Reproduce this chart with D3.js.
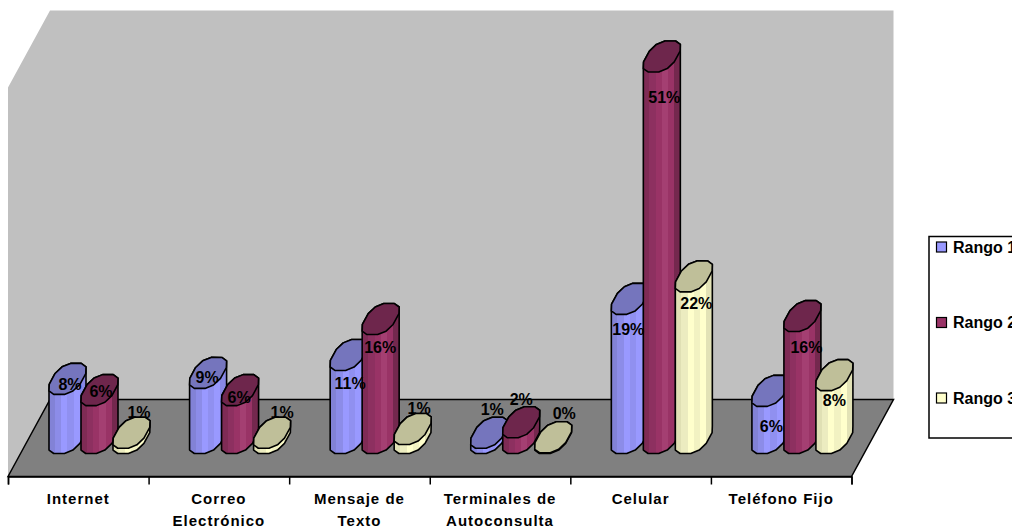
<!DOCTYPE html>
<html>
<head>
<meta charset="utf-8">
<script src="https://cdn.jsdelivr.net/npm/d3@7"></script>
<style>
  html, body { margin: 0; padding: 0; background: #fff; overflow: hidden; }
  text { font-family: "Liberation Sans", Arial, sans-serif; font-weight: bold; fill: #000; }
</style>
</head>
<body>
<div class="chart"></div>
<script>
// values, in percent
const categories = ["Internet", "Correo\nElectrónico", "Mensaje de\nTexto", "Terminales de\nAutoconsulta", "Celular", "Teléfono Fijo"];
const seriesNames = ["Rango 1", "Rango 2", "Rango 3"];
const rango1 = [7.9, 8.7, 11.1, 0.7, 18.6, 6.3];
const rango2 = [6.4, 6.4, 15.9, 2.1, 51, 16.3];
const rango3 = [0.7, 0.7, 1.2, 0.1, 21.6, 8.4];

// label nudges from the top of each cylinder, per category then series
const labelNudge = [
  [[2.5, 5], [1.5, 1], [7.5, -20]],
  [[-1, 4], [-1, 7], [10, -20]],
  [[1.5, 28], [-0.5, 28], [6.5, -21]],
  [[3, -23], [0, -23], [11, -24]],
  [[-1.5, 31], [2.5, 41], [2.5, 27]],
  [[1, 36], [4, 31], [0, 25]]
];

const width = 1012, height = 527;
const plot = { left: 8, right: 851.5, front: 476.5, back: 399.5, top: 10.5, depthX: 42 };
const halfWidth = 18.5, halfHeight = 15.5;

const colors = {
  "Rango 1": { top: "#7575bd", stops: ["#8282d6", "#8c8ce8", "#9999ff", "#9090f0", "#9999ff", "#8888e6"] },
  "Rango 2": { top: "#6e264c", stops: ["#7f2b55", "#8d3060", "#993366", "#a43f72", "#993366", "#74284e"] },
  "Rango 3": { top: "#bfbf99", stops: ["#e0e0b4", "#ecECc0", "#ffffcc", "#f2f2c2", "#ffffcc", "#e2e2b6"] }
};

const svg = d3.select(".chart").append("svg")
  .attr("width", width)
  .attr("height", height)
  .style("display", "block");

const xScale = d3.scaleLinear().domain([0, categories.length]).range([plot.left, plot.right]);
const seriesScale = d3.scalePoint().domain(seriesNames).range([38.5, 102.5]);
const liftScale = d3.scaleLinear().domain([0, 52]).range([0, plot.front - plot.top - (plot.front - plot.back)]);
const labelFormat = d3.format(".0f");

// stripes down the cylinder bodies
const defs = svg.append("defs");
seriesNames.forEach((name, i) => {
  const grad = defs.append("linearGradient").attr("id", "body" + i);
  const stops = colors[name].stops;
  stops.forEach((c, j) => {
    grad.append("stop").attr("offset", j / stops.length).attr("stop-color", c);
    grad.append("stop").attr("offset", (j + 1) / stops.length).attr("stop-color", c);
  });
});

// wall and floor
const line = d3.line();
svg.append("path")
  .attr("d", line([
    [plot.left, plot.front],
    [plot.left, plot.top + plot.front - plot.back],
    [plot.left + plot.depthX, plot.top],
    [plot.right + plot.depthX, plot.top],
    [plot.right + plot.depthX, plot.back],
    [plot.left + plot.depthX, plot.back]
  ]) + "Z")
  .attr("fill", "#c0c0c0");

svg.append("path")
  .attr("d", line([
    [plot.left, plot.front],
    [plot.left + plot.depthX, plot.back],
    [plot.right + plot.depthX, plot.back],
    [plot.right, plot.front]
  ]) + "Z")
  .attr("fill", "#808080")
  .attr("stroke", "#000")
  .attr("stroke-width", 1.5);

// axis, ticks on the band edges
const xAxis = d3.axisBottom(xScale)
  .tickValues(d3.range(categories.length + 1))
  .tickSize(8)
  .tickFormat("");
svg.append("g")
  .attr("class", "x-axis")
  .attr("transform", `translate(0, ${plot.front})`)
  .call(xAxis)
  .call(g => g.selectAll("line").attr("stroke", "#000").attr("stroke-width", 1.5))
  .call(g => g.select(".domain").attr("stroke", "#000").attr("stroke-width", 1.5));

categories.forEach((cat, i) => {
  const t = svg.append("text")
    .attr("text-anchor", "middle")
    .attr("font-size", "15px")
    .attr("letter-spacing", "1px");
  cat.split("\n").forEach((part, k) => {
    t.append("tspan")
      .attr("x", xScale(i + 0.5))
      .attr("y", 504 + k * 22)
      .text(part);
  });
});

// cylinder cap: a blocky faceted disc sheared along the depth of the floor
const facets = 12;
const skew = plot.depthX / (plot.front - plot.back);
const power = 0.8;
const rawCap = d3.range(facets).map(k => {
  const a = 0.26 + 2 * Math.PI * k / facets;
  const c = Math.sign(Math.cos(a)) * Math.pow(Math.abs(Math.cos(a)), power);
  const s = Math.sign(Math.sin(a)) * Math.pow(Math.abs(Math.sin(a)), power);
  return [c + skew * s, -s];
});
const maxX = d3.max(rawCap, d => d[0]);
const maxY = d3.max(rawCap, d => d[1]);
const cap = rawCap.map(d => [d[0] / maxX * halfWidth, d[1] / maxY * halfHeight]);
const rightIndex = d3.greatest(d3.range(facets), k => cap[k][0]);

const closed = d3.line().curve(d3.curveLinearClosed);
const seriesValues = [rango1, rango2, rango3];
const baseY = (plot.front + plot.back) / 2;
const labels = [];

categories.forEach((cat, i) => {
  seriesNames.forEach((name, s) => {
    const value = seriesValues[s][i];
    const cx = xScale(i) + plot.depthX / 2 + seriesScale(name);
    const topY = baseY - liftScale(value);

    // lower half of the base, then upper half of the top
    const bodyPts = [];
    for (let k = 0; k <= facets / 2; k++) {
      const p = cap[(rightIndex - k + facets) % facets];
      bodyPts.push([cx + p[0], baseY + p[1]]);
    }
    for (let k = 0; k <= facets / 2; k++) {
      const p = cap[(rightIndex + facets / 2 - k + facets) % facets];
      bodyPts.push([cx + p[0], topY + p[1]]);
    }
    const topPts = cap.map(p => [cx + p[0], topY + p[1]]);

    const g = svg.append("g")
      .attr("stroke", "#000")
      .attr("stroke-width", 1.6)
      .attr("stroke-linejoin", "round");
    g.append("path").attr("d", closed(bodyPts)).attr("fill", `url(#body${s})`);
    g.append("path").attr("d", closed(topPts)).attr("fill", colors[name].top);

    labels.push({
      x: cx + labelNudge[i][s][0],
      y: topY + labelNudge[i][s][1],
      text: labelFormat(value) + "%"
    });
  });
});

// data labels sit above every cylinder
svg.append("g").selectAll("text")
  .data(labels)
  .join("text")
  .attr("x", d => d.x)
  .attr("y", d => d.y)
  .attr("dy", "0.35em")
  .attr("text-anchor", "middle")
  .attr("font-size", "16px")
  .text(d => d.text);

// legend, runs off the right edge like the original
const legend = svg.append("g");
legend.append("rect")
  .attr("x", 929)
  .attr("y", 236.5)
  .attr("width", 100)
  .attr("height", 201.5)
  .attr("fill", "#fff")
  .attr("stroke", "#000")
  .attr("stroke-width", 1.5);

const legendScale = d3.scalePoint().domain(seriesNames).range([247, 398]);
seriesNames.forEach((name, s) => {
  const y = legendScale(name);
  legend.append("rect")
    .attr("x", 936.5)
    .attr("y", y - 5)
    .attr("width", 10)
    .attr("height", 10)
    .attr("fill", colors[name].stops[2])
    .attr("stroke", "#000")
    .attr("stroke-width", 1.2);
  legend.append("text")
    .attr("x", 953)
    .attr("y", y)
    .attr("dy", "0.35em")
    .attr("font-size", "16px")
    .text(name);
});
</script>
</body>
</html>
